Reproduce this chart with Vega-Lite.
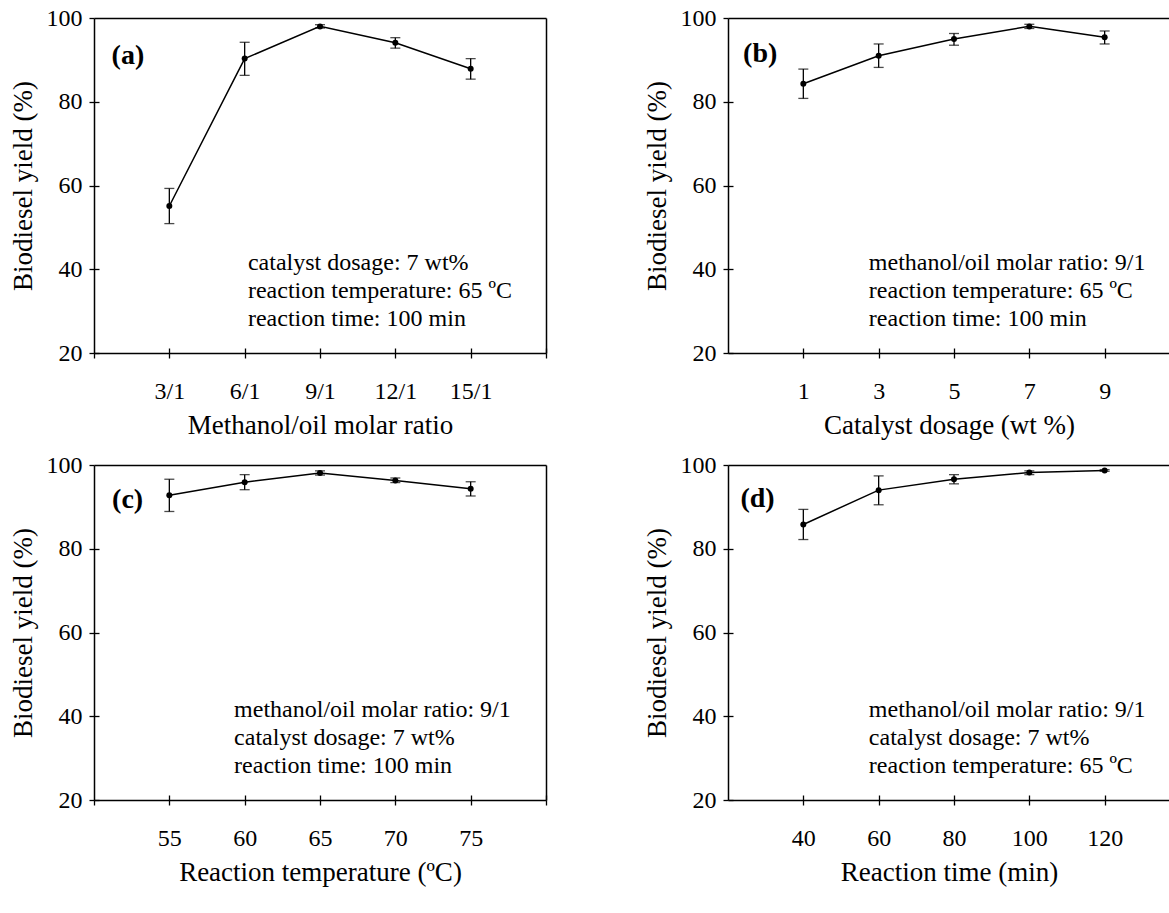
{
  "$schema": "https://vega.github.io/schema/vega-lite/v6.json",
  "background": "white",
  "padding": {"left": 9, "top": 6, "right": 0, "bottom": 5},
  "config": {
    "font": "Liberation Serif",
    "view": {"stroke": null},
    "axis": {
      "labelFont": "Liberation Serif", "titleFont": "Liberation Serif",
      "labelFontSize": 24, "titleFontSize": 27, "titleFontWeight": "normal",
      "labelColor": "black", "titleColor": "black",
      "domainColor": "black", "tickColor": "black",
      "domainWidth": 1.5, "tickWidth": 1.3, "grid": false,
      "labelOverlap": false, "labelFlush": false, "labelBound": false
    },
    "axisX": {"tickSize": 5, "labelPadding": 21, "titlePadding": 9, "labelAngle": 0},
    "axisY": {"tickSize": 5, "labelPadding": 7, "titlePadding": 9}
  },
  "datasets": {
    "a": [
      {"x": 3, "v": 55.1, "lo": 50.9, "hi": 59.3},
      {"x": 6, "v": 90.3, "lo": 86.3, "hi": 94.2},
      {"x": 9, "v": 98.0, "lo": 97.6, "hi": 98.4},
      {"x": 12, "v": 94.1, "lo": 92.8, "hi": 95.3},
      {"x": 15, "v": 87.9, "lo": 85.4, "hi": 90.3}
    ],
    "b": [
      {"x": 1, "v": 84.3, "lo": 80.8, "hi": 87.8},
      {"x": 3, "v": 91.0, "lo": 88.2, "hi": 93.8},
      {"x": 5, "v": 95.0, "lo": 93.5, "hi": 96.3},
      {"x": 7, "v": 98.0, "lo": 97.5, "hi": 98.5},
      {"x": 9, "v": 95.4, "lo": 93.8, "hi": 96.9}
    ],
    "c": [
      {"x": 55, "v": 92.8, "lo": 88.9, "hi": 96.6},
      {"x": 60, "v": 95.9, "lo": 94.1, "hi": 97.7},
      {"x": 65, "v": 98.1, "lo": 97.6, "hi": 98.6},
      {"x": 70, "v": 96.3, "lo": 95.8, "hi": 96.9},
      {"x": 75, "v": 94.3, "lo": 92.6, "hi": 96.0}
    ],
    "d": [
      {"x": 40, "v": 85.8, "lo": 82.2, "hi": 89.4},
      {"x": 60, "v": 94.0, "lo": 90.5, "hi": 97.4},
      {"x": 80, "v": 96.6, "lo": 95.5, "hi": 97.7},
      {"x": 100, "v": 98.2, "lo": 97.7, "hi": 98.6},
      {"x": 120, "v": 98.7, "lo": 98.5, "hi": 98.9}
    ],
    "notes": [
      {"panel": "a", "kind": "note", "x": 6.13, "y": 41.6, "text": "catalyst dosage: 7 wt%"},
      {"panel": "a", "kind": "note", "x": 6.13, "y": 34.9, "text": "reaction temperature: 65 ºC"},
      {"panel": "a", "kind": "note", "x": 6.13, "y": 28.2, "text": "reaction time: 100 min"},
      {"panel": "a", "kind": "label", "x": 0.7, "y": 91.0, "text": "(a)"},
      {"panel": "b", "kind": "note", "x": 2.74, "y": 41.6, "text": "methanol/oil molar ratio: 9/1"},
      {"panel": "b", "kind": "note", "x": 2.74, "y": 34.9, "text": "reaction temperature: 65 ºC"},
      {"panel": "b", "kind": "note", "x": 2.74, "y": 28.2, "text": "reaction time: 100 min"},
      {"panel": "b", "kind": "label", "x": -0.6, "y": 91.3, "text": "(b)"},
      {"panel": "c", "kind": "note", "x": 59.3, "y": 41.6, "text": "methanol/oil molar ratio: 9/1"},
      {"panel": "c", "kind": "note", "x": 59.3, "y": 34.9, "text": "catalyst dosage: 7 wt%"},
      {"panel": "c", "kind": "note", "x": 59.3, "y": 28.2, "text": "reaction time: 100 min"},
      {"panel": "c", "kind": "label", "x": 51.2, "y": 91.7, "text": "(c)"},
      {"panel": "d", "kind": "note", "x": 57.4, "y": 41.6, "text": "methanol/oil molar ratio: 9/1"},
      {"panel": "d", "kind": "note", "x": 57.4, "y": 34.9, "text": "catalyst dosage: 7 wt%"},
      {"panel": "d", "kind": "note", "x": 57.4, "y": 28.2, "text": "reaction temperature: 65 ºC"},
      {"panel": "d", "kind": "label", "x": 23.3, "y": 91.8, "text": "(d)"}
    ]
  },
  "columns": 2,
  "spacing": {"row": 112, "column": 182},
  "bounds": "flush",
  "concat": [
    {
      "width": 452, "height": 335,
      "resolve": {"axis": {"x": "independent", "y": "independent"}},
      "layer": [
        {"data": {"name": "a"}, "mark": {"type": "errorbar", "color": "black", "thickness": 1.3, "ticks": {"size": 10}},
         "encoding": {"x": {"field": "x", "type": "quantitative", "scale": {"domain": [0, 18], "nice": false, "zero": false}, "axis": null},
                      "y": {"field": "lo", "type": "quantitative", "scale": {"domain": [20, 100], "nice": false, "zero": false}, "axis": null},
                      "y2": {"field": "hi"}}},
        {"data": {"name": "a"}, "mark": {"type": "line", "color": "black", "strokeWidth": 1.5},
         "encoding": {"x": {"field": "x", "type": "quantitative", "scale": {"domain": [0, 18], "nice": false, "zero": false},
                            "axis": {"orient": "bottom", "title": "Methanol/oil molar ratio", "values": [0, 3, 6, 9, 12, 15, 18], "labelExpr": "datum.value == 0 || datum.value == 18 ? '' : datum.value + '/1'"}},
                      "y": {"field": "v", "type": "quantitative", "scale": {"domain": [20, 100], "nice": false, "zero": false},
                            "axis": {"orient": "left", "title": "Biodiesel yield (%)", "values": [20, 40, 60, 80, 100]}}}},
        {"data": {"name": "a"}, "mark": {"type": "point", "filled": true, "color": "black", "size": 36, "opacity": 1},
         "encoding": {"x": {"field": "x", "type": "quantitative", "scale": {"domain": [0, 18], "nice": false, "zero": false},
                            "axis": {"orient": "bottom", "tickSize": -5, "labels": false, "domain": false, "title": null, "values": [3, 6, 9, 12, 15, 18]}},
                      "y": {"field": "v", "type": "quantitative", "scale": {"domain": [20, 100], "nice": false, "zero": false},
                            "axis": {"orient": "left", "tickSize": -5, "labels": false, "domain": false, "title": null, "values": [20, 40, 60, 80]}}}},
        {"data": {"name": "notes"}, "transform": [{"filter": "datum.panel == 'a' && datum.kind == 'note'"}],
         "mark": {"type": "text", "align": "left", "baseline": "middle", "fontSize": 24, "font": "Liberation Serif", "color": "black"},
         "encoding": {"x": {"field": "x", "type": "quantitative", "scale": {"domain": [0, 18], "nice": false, "zero": false},
                            "axis": {"orient": "top", "ticks": false, "labels": false, "title": null, "domain": true}},
                      "y": {"field": "y", "type": "quantitative", "scale": {"domain": [20, 100], "nice": false, "zero": false},
                            "axis": {"orient": "right", "ticks": false, "labels": false, "title": null, "domain": true}},
                      "text": {"field": "text"}}},
        {"data": {"name": "notes"}, "transform": [{"filter": "datum.panel == 'a' && datum.kind == 'label'"}],
         "mark": {"type": "text", "align": "left", "baseline": "middle", "fontSize": 28, "fontWeight": "bold", "font": "Liberation Serif", "color": "black"},
         "encoding": {"x": {"field": "x", "type": "quantitative", "scale": {"domain": [0, 18], "nice": false, "zero": false}, "axis": null},
                      "y": {"field": "y", "type": "quantitative", "scale": {"domain": [20, 100], "nice": false, "zero": false}, "axis": null},
                      "text": {"field": "text"}}}
      ]
    },
    {
      "width": 442, "height": 335,
      "resolve": {"axis": {"x": "independent", "y": "independent"}},
      "layer": [
        {"data": {"name": "b"}, "mark": {"type": "errorbar", "color": "black", "thickness": 1.3, "ticks": {"size": 10}},
         "encoding": {"x": {"field": "x", "type": "quantitative", "scale": {"domain": [-1, 10.735], "nice": false, "zero": false}, "axis": null},
                      "y": {"field": "lo", "type": "quantitative", "scale": {"domain": [20, 100], "nice": false, "zero": false}, "axis": null},
                      "y2": {"field": "hi"}}},
        {"data": {"name": "b"}, "mark": {"type": "line", "color": "black", "strokeWidth": 1.5},
         "encoding": {"x": {"field": "x", "type": "quantitative", "scale": {"domain": [-1, 10.735], "nice": false, "zero": false},
                            "axis": {"orient": "bottom", "title": "Catalyst dosage (wt %)", "values": [1, 3, 5, 7, 9]}},
                      "y": {"field": "v", "type": "quantitative", "scale": {"domain": [20, 100], "nice": false, "zero": false},
                            "axis": {"orient": "left", "title": "Biodiesel yield (%)", "values": [20, 40, 60, 80, 100]}}}},
        {"data": {"name": "b"}, "mark": {"type": "point", "filled": true, "color": "black", "size": 36, "opacity": 1},
         "encoding": {"x": {"field": "x", "type": "quantitative", "scale": {"domain": [-1, 10.735], "nice": false, "zero": false},
                            "axis": {"orient": "bottom", "tickSize": -5, "labels": false, "domain": false, "title": null, "values": [1, 3, 5, 7, 9]}},
                      "y": {"field": "v", "type": "quantitative", "scale": {"domain": [20, 100], "nice": false, "zero": false},
                            "axis": {"orient": "left", "tickSize": -5, "labels": false, "domain": false, "title": null, "values": [20, 40, 60, 80]}}}},
        {"data": {"name": "notes"}, "transform": [{"filter": "datum.panel == 'b' && datum.kind == 'note'"}],
         "mark": {"type": "text", "align": "left", "baseline": "middle", "fontSize": 24, "font": "Liberation Serif", "color": "black"},
         "encoding": {"x": {"field": "x", "type": "quantitative", "scale": {"domain": [-1, 10.735], "nice": false, "zero": false},
                            "axis": {"orient": "top", "ticks": false, "labels": false, "title": null, "domain": true}},
                      "y": {"field": "y", "type": "quantitative", "scale": {"domain": [20, 100], "nice": false, "zero": false}, "axis": null},
                      "text": {"field": "text"}}},
        {"data": {"name": "notes"}, "transform": [{"filter": "datum.panel == 'b' && datum.kind == 'label'"}],
         "mark": {"type": "text", "align": "left", "baseline": "middle", "fontSize": 28, "fontWeight": "bold", "font": "Liberation Serif", "color": "black"},
         "encoding": {"x": {"field": "x", "type": "quantitative", "scale": {"domain": [-1, 10.735], "nice": false, "zero": false}, "axis": null},
                      "y": {"field": "y", "type": "quantitative", "scale": {"domain": [20, 100], "nice": false, "zero": false}, "axis": null},
                      "text": {"field": "text"}}}
      ]
    },
    {
      "width": 452, "height": 335,
      "resolve": {"axis": {"x": "independent", "y": "independent"}},
      "layer": [
        {"data": {"name": "c"}, "mark": {"type": "errorbar", "color": "black", "thickness": 1.3, "ticks": {"size": 10}},
         "encoding": {"x": {"field": "x", "type": "quantitative", "scale": {"domain": [50, 80], "nice": false, "zero": false}, "axis": null},
                      "y": {"field": "lo", "type": "quantitative", "scale": {"domain": [20, 100], "nice": false, "zero": false}, "axis": null},
                      "y2": {"field": "hi"}}},
        {"data": {"name": "c"}, "mark": {"type": "line", "color": "black", "strokeWidth": 1.5},
         "encoding": {"x": {"field": "x", "type": "quantitative", "scale": {"domain": [50, 80], "nice": false, "zero": false},
                            "axis": {"orient": "bottom", "title": "Reaction temperature (ºC)", "values": [50, 55, 60, 65, 70, 75, 80], "labelExpr": "datum.value == 50 || datum.value == 80 ? '' : datum.label"}},
                      "y": {"field": "v", "type": "quantitative", "scale": {"domain": [20, 100], "nice": false, "zero": false},
                            "axis": {"orient": "left", "title": "Biodiesel yield (%)", "values": [20, 40, 60, 80, 100]}}}},
        {"data": {"name": "c"}, "mark": {"type": "point", "filled": true, "color": "black", "size": 36, "opacity": 1},
         "encoding": {"x": {"field": "x", "type": "quantitative", "scale": {"domain": [50, 80], "nice": false, "zero": false},
                            "axis": {"orient": "bottom", "tickSize": -5, "labels": false, "domain": false, "title": null, "values": [55, 60, 65, 70, 75, 80]}},
                      "y": {"field": "v", "type": "quantitative", "scale": {"domain": [20, 100], "nice": false, "zero": false},
                            "axis": {"orient": "left", "tickSize": -5, "labels": false, "domain": false, "title": null, "values": [20, 40, 60, 80]}}}},
        {"data": {"name": "notes"}, "transform": [{"filter": "datum.panel == 'c' && datum.kind == 'note'"}],
         "mark": {"type": "text", "align": "left", "baseline": "middle", "fontSize": 24, "font": "Liberation Serif", "color": "black"},
         "encoding": {"x": {"field": "x", "type": "quantitative", "scale": {"domain": [50, 80], "nice": false, "zero": false},
                            "axis": {"orient": "top", "ticks": false, "labels": false, "title": null, "domain": true}},
                      "y": {"field": "y", "type": "quantitative", "scale": {"domain": [20, 100], "nice": false, "zero": false},
                            "axis": {"orient": "right", "ticks": false, "labels": false, "title": null, "domain": true}},
                      "text": {"field": "text"}}},
        {"data": {"name": "notes"}, "transform": [{"filter": "datum.panel == 'c' && datum.kind == 'label'"}],
         "mark": {"type": "text", "align": "left", "baseline": "middle", "fontSize": 28, "fontWeight": "bold", "font": "Liberation Serif", "color": "black"},
         "encoding": {"x": {"field": "x", "type": "quantitative", "scale": {"domain": [50, 80], "nice": false, "zero": false}, "axis": null},
                      "y": {"field": "y", "type": "quantitative", "scale": {"domain": [20, 100], "nice": false, "zero": false}, "axis": null},
                      "text": {"field": "text"}}}
      ]
    },
    {
      "width": 442, "height": 335,
      "resolve": {"axis": {"x": "independent", "y": "independent"}},
      "layer": [
        {"data": {"name": "d"}, "mark": {"type": "errorbar", "color": "black", "thickness": 1.3, "ticks": {"size": 10}},
         "encoding": {"x": {"field": "x", "type": "quantitative", "scale": {"domain": [20, 137.35], "nice": false, "zero": false}, "axis": null},
                      "y": {"field": "lo", "type": "quantitative", "scale": {"domain": [20, 100], "nice": false, "zero": false}, "axis": null},
                      "y2": {"field": "hi"}}},
        {"data": {"name": "d"}, "mark": {"type": "line", "color": "black", "strokeWidth": 1.5},
         "encoding": {"x": {"field": "x", "type": "quantitative", "scale": {"domain": [20, 137.35], "nice": false, "zero": false},
                            "axis": {"orient": "bottom", "title": "Reaction time (min)", "values": [40, 60, 80, 100, 120]}},
                      "y": {"field": "v", "type": "quantitative", "scale": {"domain": [20, 100], "nice": false, "zero": false},
                            "axis": {"orient": "left", "title": "Biodiesel yield (%)", "values": [20, 40, 60, 80, 100]}}}},
        {"data": {"name": "d"}, "mark": {"type": "point", "filled": true, "color": "black", "size": 36, "opacity": 1},
         "encoding": {"x": {"field": "x", "type": "quantitative", "scale": {"domain": [20, 137.35], "nice": false, "zero": false},
                            "axis": {"orient": "bottom", "tickSize": -5, "labels": false, "domain": false, "title": null, "values": [40, 60, 80, 100, 120]}},
                      "y": {"field": "v", "type": "quantitative", "scale": {"domain": [20, 100], "nice": false, "zero": false},
                            "axis": {"orient": "left", "tickSize": -5, "labels": false, "domain": false, "title": null, "values": [20, 40, 60, 80]}}}},
        {"data": {"name": "notes"}, "transform": [{"filter": "datum.panel == 'd' && datum.kind == 'note'"}],
         "mark": {"type": "text", "align": "left", "baseline": "middle", "fontSize": 24, "font": "Liberation Serif", "color": "black"},
         "encoding": {"x": {"field": "x", "type": "quantitative", "scale": {"domain": [20, 137.35], "nice": false, "zero": false},
                            "axis": {"orient": "top", "ticks": false, "labels": false, "title": null, "domain": true}},
                      "y": {"field": "y", "type": "quantitative", "scale": {"domain": [20, 100], "nice": false, "zero": false}, "axis": null},
                      "text": {"field": "text"}}},
        {"data": {"name": "notes"}, "transform": [{"filter": "datum.panel == 'd' && datum.kind == 'label'"}],
         "mark": {"type": "text", "align": "left", "baseline": "middle", "fontSize": 28, "fontWeight": "bold", "font": "Liberation Serif", "color": "black"},
         "encoding": {"x": {"field": "x", "type": "quantitative", "scale": {"domain": [20, 137.35], "nice": false, "zero": false}, "axis": null},
                      "y": {"field": "y", "type": "quantitative", "scale": {"domain": [20, 100], "nice": false, "zero": false}, "axis": null},
                      "text": {"field": "text"}}}
      ]
    }
  ]
}
